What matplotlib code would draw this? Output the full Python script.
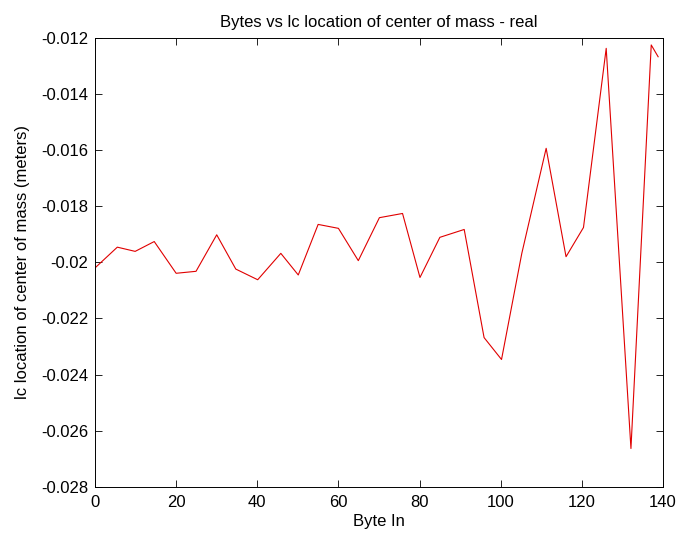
import matplotlib
matplotlib.use("Agg")
import matplotlib.pyplot as plt
import numpy as np

# byte index vs. location of the centre of mass (metres)
byteIn = [0, 5.5, 9.9, 14.6, 20, 24.9, 30, 34.7, 40.1, 45.8,
          50.1, 55, 60, 64.9, 70.1, 75.8, 80.1, 85, 91, 95.9,
          100.2, 105.2, 111.2, 116.1, 120.4, 126, 132.1, 137.1, 138.8]
lcLocation = [-0.0202, -0.01946, -0.01961, -0.01926, -0.02039, -0.02032, -0.01902, -0.02024, -0.02062, -0.01968,
              -0.02045, -0.01865, -0.01879, -0.01994, -0.01841, -0.01826, -0.02054, -0.01911, -0.01883, -0.02268,
              -0.02346, -0.01968, -0.01594, -0.0198, -0.01876, -0.01238, -0.02663, -0.01226, -0.01268]

yTicks = [-0.028, -0.026, -0.024, -0.022, -0.02, -0.018, -0.016, -0.014, -0.012]
yTickLabels = ["-0.028", "-0.026", "-0.024", "-0.022", "-0.02", "-0.018", "-0.016", "-0.014", "-0.012"]
xTicks = [0, 20, 40, 60, 80, 100, 120, 140]

plt.rcParams['font.family'] = ['Liberation Sans', 'DejaVu Sans']
plt.rcParams['font.size'] = 12

fig = plt.figure(figsize=(6.8, 5.38), dpi=100)
ax = fig.add_axes([0.1397, 0.0948, 0.975 - 0.1397, 0.930 - 0.0948])
ax.plot(byteIn, lcLocation, color="#e00000", linewidth=0.8)

ax.set_xlim(0, 140)
ax.set_ylim(-0.028, -0.012)
ax.set_xticks(xTicks)
ax.set_yticks(yTicks)
ax.set_yticklabels(yTickLabels)
ax.tick_params(direction="in", length=5, width=0.6, top=True, right=True)
ax.tick_params(axis="x", pad=6)
ax.tick_params(axis="y", pad=5)
for spine in ax.spines.values():
    spine.set_linewidth(0.7)

ax.set_title("Bytes vs lc location of center of mass - real", fontsize=12, pad=8)
ax.set_xlabel("Byte In", labelpad=3)
ax.set_ylabel("lc location of center of mass (meters)", labelpad=8)

fig.savefig("out.png", dpi=100)
